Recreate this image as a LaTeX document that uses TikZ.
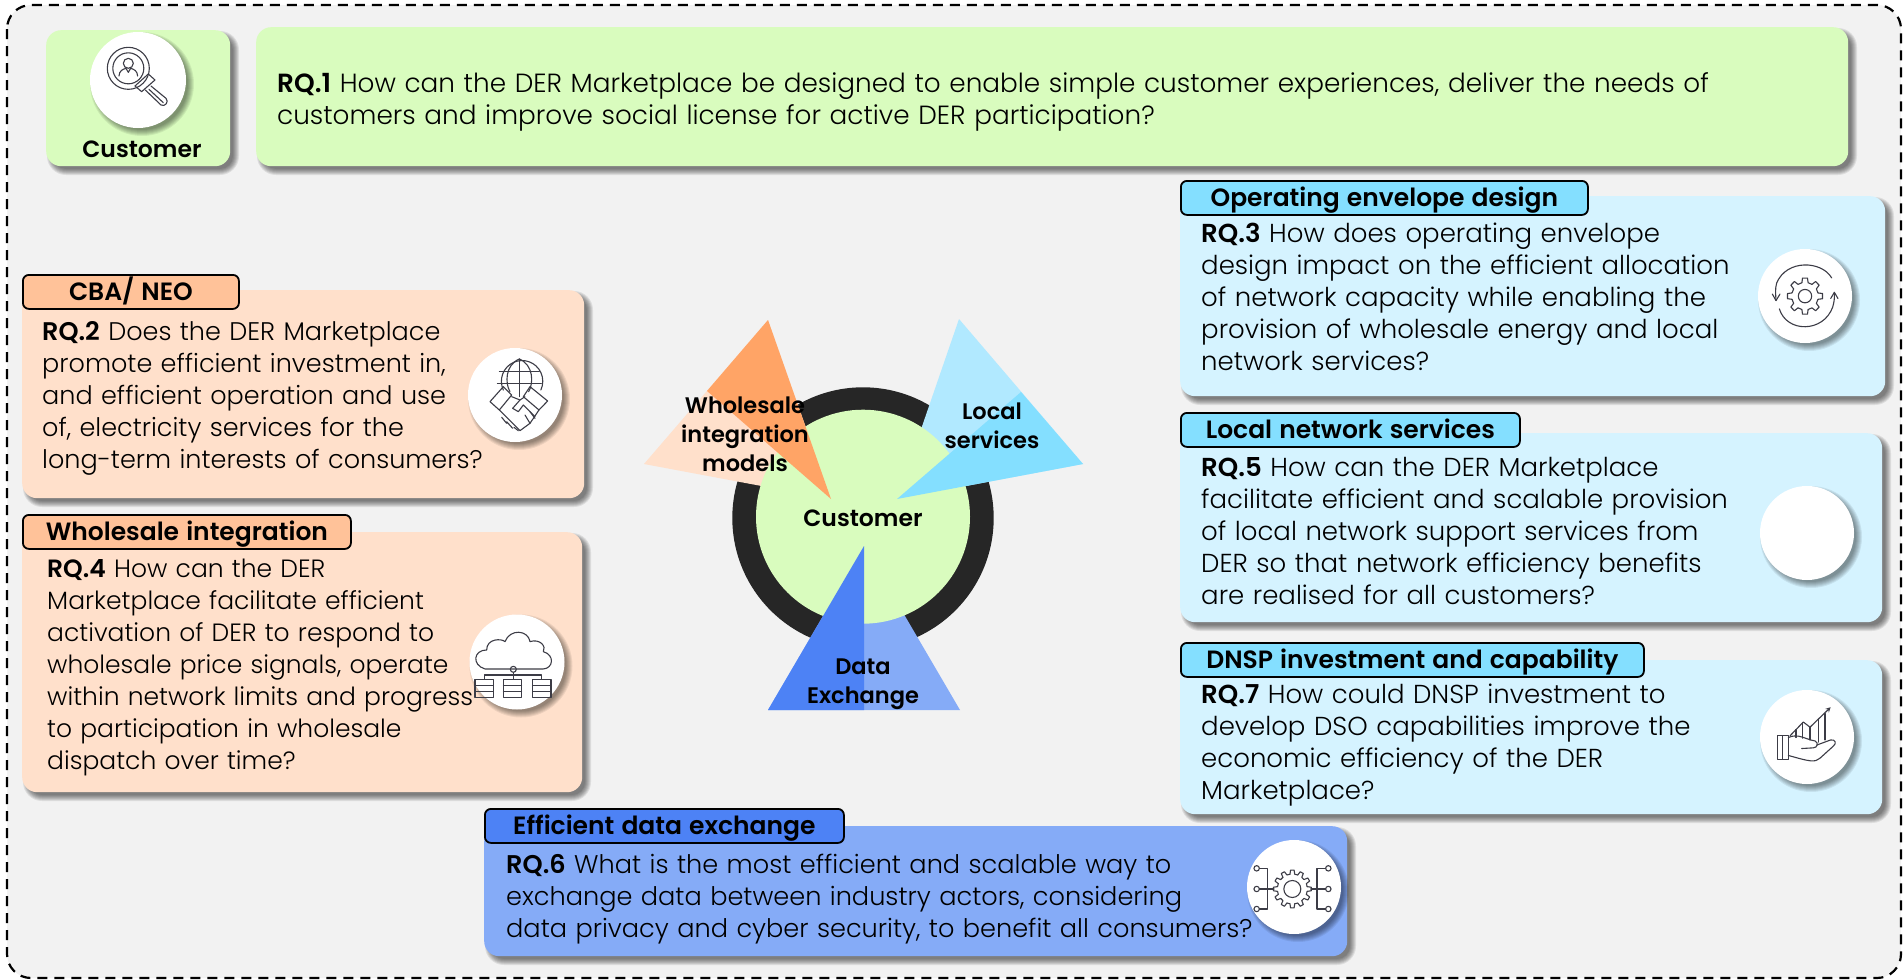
\documentclass[tikz,border=0pt]{standalone}
\usepackage{fontspec}
\setmainfont{Poppins}[UprightFont=* Light,BoldFont=* SemiBold,WordSpace=1.2]
\usetikzlibrary{arrows.meta}
\definecolor{bgc}{HTML}{F2F2F2}
\definecolor{greenc}{HTML}{D9FCBE}
\definecolor{ringc}{HTML}{262626}
\definecolor{orD}{HTML}{FFA466}
\definecolor{orM}{HTML}{FFC299}
\definecolor{orL}{HTML}{FFE0CB}
\definecolor{cyD}{HTML}{84DFFF}
\definecolor{cyM}{HTML}{B1E9FF}
\definecolor{cyL}{HTML}{D5F3FF}
\definecolor{blD}{HTML}{4D82F5}
\definecolor{blL}{HTML}{85ABF7}
\definecolor{iconc}{HTML}{3C3C46}
\tikzset{
  panelbox/.style={rounded corners=15pt,draw=none,inner sep=0pt,anchor=north west},
  tabbox/.style={rounded corners=6pt,draw=black,line width=1.8pt,inner sep=0pt,anchor=north west,
     text height=17.5pt,text depth=0pt,font=\fontsize{25}{28}\selectfont\bfseries},
  rqtext/.style={anchor=north west,inner sep=0pt,align=left},
  boldlabel/.style={inner sep=0pt,align=center,font=\fontsize{22.5}{29}\selectfont\bfseries},
  disc/.style={circle,fill=white,inner sep=0pt},
  iconline/.style={draw=iconc,line width=1.1pt,line join=round,line cap=round},
}
% soft shadow of a rounded rectangle: x1 y1 x2 y2 radius
\newcommand\shadowrect[5]{%
  \foreach \d in {4,3,2,1,0,-1,-2}{%
    \fill[black,opacity=.085,rounded corners={(#5+\d)*1pt}]
      ({#1+5-\d},{#2+5-\d}) rectangle ({#3+5+\d},{#4+5+\d});}}
% name x1 y1 x2 y2 colour
\newcommand\panelnode[6]{%
  \shadowrect{#2}{#3}{#4}{#5}{15}%
  \node[panelbox,fill=#6,minimum width={(#4-#2)*1pt},minimum height={(#5-#3)*1pt}] (#1) at (#2,#3) {};}
% name x1 y1 x2 y2 colour text
\newcommand\tabnode[7]{%
  \node[tabbox,fill=#6,minimum width={(#4-#2)*1pt},minimum height={(#5-#3)*1pt}] (#1) at (#2,#3) {#7};}
% name cx cy r
\newcommand\discnode[4]{%
  \foreach \d in {4,3,2,1,0,-1,-2}{%
    \fill[black,opacity=.07] ({#2+4},{#3+4}) circle ({(#4+\d)*1pt});}
  \node[disc,minimum size={2*#4*1pt}] (#1) at (#2,#3) {};}
% [size] name x baseline text
\newcommand\rqblock[5][26]{%
  \node[rqtext,font=\fontsize{#1}{32}\selectfont] (#2) at (#3,{#4-23.5}) {\rule{0pt}{23.5pt}#5};}
% gear: cx cy router rinner teeth
\newcommand\gearicon[5]{%
  \pgfmathsetmacro\gstep{360/#5}
  \foreach \k in {1,...,#5}{%
    \pgfmathsetmacro\ga{\k*\gstep}
    \draw[iconline] ({#1+#4*cos(\ga-.30*\gstep)},{#2+#4*sin(\ga-.30*\gstep)})
      -- ({#1+#3*cos(\ga-.18*\gstep)},{#2+#3*sin(\ga-.18*\gstep)})
      -- ({#1+#3*cos(\ga+.18*\gstep)},{#2+#3*sin(\ga+.18*\gstep)})
      -- ({#1+#4*cos(\ga+.30*\gstep)},{#2+#4*sin(\ga+.30*\gstep)})
      -- ({#1+#4*cos(\ga+.70*\gstep)},{#2+#4*sin(\ga+.70*\gstep)});}}
\begin{document}
\begin{tikzpicture}[x=1pt,y=-1pt]
\useasboundingbox (0,0) rectangle (1904,980);
\draw[fill=bgc,draw=black,line width=2.2pt,dash pattern=on 10pt off 7pt,rounded corners=24pt] (7,5) rectangle (1901,978);

% top row
\panelnode{custpanel}{46}{30}{230}{166}{greenc}
\panelnode{rqonepanel}{256}{27}{1848}{166}{greenc}
\discnode{custdisc}{138}{80}{48}
\node[boldlabel,font=\fontsize{23.5}{29}\selectfont\bfseries] (custlabel) at (142,149) {Customer};
\rqblock[26.3]{rqone}{277}{92}{\textbf{RQ.1} How can the DER Marketplace be designed to enable simple customer experiences, deliver the needs of\\customers and improve social license for active DER participation?}

% left panels
\panelnode{cbapanel}{22}{290}{584}{498}{orL}
\tabnode{cbatab}{22}{274}{238}{308}{orM}{CBA/ NEO}
\discnode{cbadisc}{515}{395}{47}
\rqblock[25.5]{rqtwo}{42}{340}{\textbf{RQ.2} Does the DER Marketplace\\promote efficient investment in,\\and efficient operation and use\\of, electricity services for the\\long-term interests of consumers?}
\panelnode{wipanel}{22}{532}{582}{792}{orL}
\tabnode{witab}{22}{514}{350}{548}{orM}{Wholesale integration}
\discnode{widisc}{517}{662}{47.5}
\rqblock[25]{rqfour}{47}{577}{\textbf{RQ.4} How can the DER\\Marketplace facilitate efficient\\activation of DER to respond to\\wholesale price signals, operate\\within network limits and progress\\to participation in wholesale\\dispatch over time?}

% right panels
\panelnode{oepanel}{1180}{196}{1885}{396}{cyL}
\tabnode{oetab}{1180}{180}{1587}{214}{cyD}{Operating envelope design}
\rqblock{rqthree}{1201}{242}{\textbf{RQ.3} How does operating envelope\\design impact on the efficient allocation\\of network capacity while enabling the\\provision of wholesale energy and local\\network services?}
\discnode{oedisc}{1805}{296}{47}
\panelnode{lnpanel}{1180}{433}{1882}{622}{cyL}
\tabnode{lntab}{1180}{412}{1519}{446}{cyD}{Local network services}
\rqblock{rqfive}{1201}{476}{\textbf{RQ.5} How can the DER Marketplace\\facilitate efficient and scalable provision\\of local network support services from\\DER so that network efficiency benefits\\are realised for all customers?}
\discnode{lndisc}{1807}{533}{47}
\panelnode{dnpanel}{1180}{660}{1882}{814}{cyL}
\tabnode{dntab}{1180}{642}{1643}{676}{cyD}{DNSP investment and capability}
\rqblock{rqseven}{1201}{703}{\textbf{RQ.7} How could DNSP investment to\\develop DSO capabilities improve the\\economic efficiency of the DER\\Marketplace?}
\discnode{dndisc}{1807}{737}{47}

% bottom panel
\panelnode{depanel}{484}{826}{1347}{956}{blL}
\tabnode{detab}{484}{808}{843}{842}{blD}{Efficient data exchange}
\discnode{dedisc}{1294}{887}{47}
\rqblock[25.6]{rqsix}{506}{873}{\textbf{RQ.6} What is the most efficient and scalable way to\\exchange data between industry actors, considering\\data privacy and cyber security, to benefit all consumers?}

% central figure
\fill[ringc] (863,518) circle (130.7pt);
\fill[orL] (768,320) -- (644,464) -- (831,499) -- cycle;
\fill[cyM] (959,319) -- (1083,464) -- (897,499) -- cycle;
\fill[blL] (864,546) -- (768,710) -- (960,710) -- cycle;
\fill[greenc] (863,516.7) circle (107pt);
\fill[orD] (768,320) -- (707,391) -- (831,499) -- cycle;
\fill[cyD] (1021,392) -- (1083,464) -- (897,499) -- cycle;
\fill[blD] (864,546) -- (768,710) -- (864,710) -- cycle;
\node[boldlabel,font=\fontsize{23.5}{29}\selectfont\bfseries] (hubc) at (863,518) {Customer};
\node[boldlabel] (hubw) at (745,434) {Wholesale\\integration\\models};
\node[boldlabel] (hubl) at (992,426) {Local\\services};
\node[boldlabel] (hubd) at (863,684) {Data\\Exchange};

% magnifier icon
\begin{scope}[shift={(0,0)},x=.3333pt,y=-.3333pt]
\draw[iconline] (385,205) circle (21pt) (385,205) circle (15.5pt);
\draw[iconline] (385,190) circle (5pt);
\draw[iconline] (357,228) .. controls (358,212) and (368,208) .. (378,205) -- (385,217) -- (392,205) .. controls (402,208) and (412,212) .. (413,228);
\draw[iconline] (445,222) -- (465,240) -- (425,275) -- (405,258) -- cycle;
\draw[iconline] (453,258) -- (498,295) .. controls (508,305) and (495,322) .. (483,315) -- (436,270);
\draw[iconline] (447,268) -- (490,308);
\end{scope}

% globe and handshake icon
\begin{scope}[shift={(440,340)},x=.3333pt,y=-.3333pt]
\draw[iconline] (190,150) arc (205:-25:20.7pt);
\draw[iconline] (238,57) .. controls (195,75) and (195,130) .. (210,155);
\draw[iconline] (238,57) .. controls (281,75) and (281,130) .. (266,155);
\draw[iconline] (238,57) -- (238,170);
\draw[iconline] (178,95) -- (298,95) (172,130) -- (304,130);
\draw[iconline] (190,140) -- (150,185) -- (178,210) -- (215,165) -- cycle;
\draw[iconline] (270,140) -- (323,183) -- (297,210) -- (250,170) -- cycle;
\draw[iconline] (215,170) -- (240,180) -- (255,170);
\draw[iconline] (178,210) -- (240,272) -- (270,250) -- (297,210);
\draw[iconline] (240,180) -- (218,205) -- (235,215) -- (250,195) -- (285,230);
\draw[iconline] (185,232) -- (200,250) (200,245) -- (218,265) (222,262) -- (235,272);
\draw[iconline] (255,225) -- (270,250) (270,215) -- (285,235);
\end{scope}

% cloud and servers icon
\begin{scope}[shift={(440,340)},x=.3333pt,y=-.3333pt]
\draw[iconline] (135,987) .. controls (95,975) and (100,930) .. (140,930) .. controls (140,895) and (185,895) .. (195,905) .. controls (210,865) and (265,870) .. (270,905) .. controls (300,895) and (320,920) .. (310,935) .. controls (345,945) and (340,985) .. (310,987) -- cycle;
\draw[iconline] (220,988) circle (3pt);
\draw[iconline] (220,997) -- (220,1018);
\draw[iconline] (133,1018) -- (133,1005) -- (305,1005) -- (305,1018);
\foreach \sx in {105,190,278}{
  \draw[iconline] (\sx,1018) rectangle (\sx+55,1072);
  \draw[iconline] (\sx,1036) -- (\sx+55,1036) (\sx,1054) -- (\sx+55,1054);
}
\end{scope}

% gear with circular arrows icon
\begin{scope}[shift={(1720,240)},x=.3333pt,y=-.3443pt]
\gearicon{255}{163}{53}{40}{8}
\draw[iconline] (255,163) circle (6.7pt);
\draw[iconline] (335,110) .. controls (305,60) and (200,55) .. (170,125) .. controls (165,140) and (167,160) .. (168,175);
\draw[iconline] (157,157) -- (168,176) -- (180,157);
\draw[iconline] (178,200) .. controls (200,270) and (310,270) .. (338,195) .. controls (343,180) and (344,165) .. (343,152);
\draw[iconline] (332,170) -- (343,152) -- (354,170);
\end{scope}

% hand with chart icon
\begin{scope}[shift={(1720,240)},x=.3333pt,y=-.3443pt]
\draw[iconline] (172,1440) rectangle (205,1508);
\draw[iconline] (187,1440) -- (187,1508);
\draw[iconline] (205,1445) .. controls (235,1432) and (255,1450) .. (285,1455) .. controls (297,1460) and (292,1475) .. (280,1475) -- (245,1477);
\draw[iconline] (290,1467) -- (332,1452) .. controls (347,1450) and (350,1462) .. (340,1470) -- (300,1505) .. controls (285,1518) and (270,1515) .. (205,1497);
\draw[iconline,-{Stealth[length=5pt,width=5pt]}] (210,1440) -- (250,1400) -- (270,1415) -- (332,1357);
\draw[iconline] (228,1422) -- (228,1445) (248,1402) -- (248,1447) (270,1415) -- (270,1452) (295,1392) -- (295,1458) (315,1375) -- (315,1452);
\end{scope}

% gear with connectors icon
\begin{scope}[shift={(1200,800)},x=.3333pt,y=-.3333pt]
\gearicon{277}{267}{57}{45}{12}
\draw[iconline] (277,267) circle (8.5pt);
\foreach \py in {205,267,327}{
  \draw[iconline] (170,\py) circle (2.7pt);
  \draw[iconline] (385,\py) circle (2.7pt);
}
\draw[iconline] (178,205) -- (203,205) -- (203,327) -- (178,327);
\draw[iconline] (178,267) -- (222,267);
\draw[iconline] (377,205) -- (351,205) -- (351,327) -- (377,327);
\draw[iconline] (377,267) -- (333,267);
\end{scope}
\end{tikzpicture}
\end{document}
